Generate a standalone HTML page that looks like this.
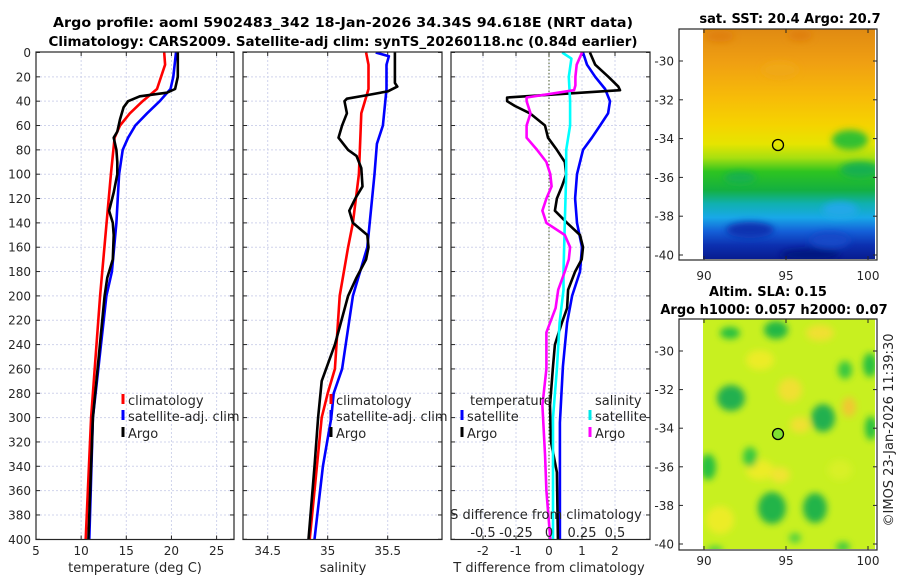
<!DOCTYPE html>
<html><head><meta charset="utf-8">
<style>
html,body{margin:0;padding:0;background:#fff;}
svg{display:block;font-family:"DejaVu Sans","Liberation Sans",sans-serif;}
.tk{font-size:12px;fill:#262626;}
.tt{font-size:13px;font-weight:bold;fill:#000;}
.lg{font-size:13px;fill:#262626;}
</style></head>
<body>
<svg id="chart" width="900" height="580" viewBox="0 0 900 580" xmlns="http://www.w3.org/2000/svg">
<defs>
<clipPath id="c1"><rect x="36" y="52" width="198" height="487.5"/></clipPath>
<clipPath id="c2"><rect x="243" y="52" width="199" height="487.5"/></clipPath>
<clipPath id="c3"><rect x="451" y="52" width="199" height="487.5"/></clipPath>
<clipPath id="cm1"><rect x="703" y="29" width="172" height="230"/></clipPath>
<clipPath id="cm2"><rect x="703" y="319" width="172" height="230"/></clipPath>
<linearGradient id="sstg" x1="0" y1="0" x2="0" y2="1">
<stop offset="0" stop-color="#e08a12"/><stop offset="0.15" stop-color="#f0a012"/>
<stop offset="0.3" stop-color="#f7bc08"/><stop offset="0.42" stop-color="#f5d400"/>
<stop offset="0.5" stop-color="#e6e400"/><stop offset="0.56" stop-color="#a8e010"/>
<stop offset="0.62" stop-color="#2ec420"/><stop offset="0.7" stop-color="#14b040"/>
<stop offset="0.76" stop-color="#10b0b0"/><stop offset="0.82" stop-color="#18a8e8"/>
<stop offset="0.88" stop-color="#1460d8"/><stop offset="0.94" stop-color="#0c30b0"/>
<stop offset="1" stop-color="#081c90"/>
</linearGradient>
<filter id="blur" x="-50%" y="-50%" width="200%" height="200%"><feGaussianBlur stdDeviation="3.5"/></filter>
</defs>
<g id="titles">
<text class="tt" x="343" y="27" text-anchor="middle" textLength="580" lengthAdjust="spacingAndGlyphs">Argo profile: aoml 5902483_342 18-Jan-2026 34.34S 94.618E (NRT data)</text>
<text class="tt" x="343" y="46" text-anchor="middle" textLength="589" lengthAdjust="spacingAndGlyphs">Climatology: CARS2009. Satellite-adj clim: synTS_20260118.nc (0.84d earlier)</text>
</g>
<g id="p1"></g><g id="p2"></g><g id="p3"></g>
<g id="maps"></g>
</svg>
<script>
// ---- data ----
const depthTicks=[0,20,40,60,80,100,120,140,160,180,200,220,240,260,280,300,320,340,360,380,400];
const tempTicks=[5,10,15,20,25];
const salTicks=[34.5,35,35.5];
const tdTicks=[-2,-1,0,1,2];
const sdTickLabels=['-0.5','-0.25','0','0.25','0.5'];
const sdTicks=[-0.5,-0.25,0,0.25,0.5];

const climTDepth=[0,10,30,40,50,60,70,100,200,300,400];
const climTVal=[19.2,19.3,18.4,16.8,15.4,14.3,13.7,13.3,12.1,11.1,10.5];
const satTDepth=[0,20,30,40,50,60,70,80,100,140,180,200,300,400];
const satTVal=[20.5,20.2,19.9,18.7,17.3,16.0,15.2,14.6,14.2,13.9,13.4,12.8,11.3,10.9];
const argoTDepth=[0,20,30,33,36,40,45,55,65,70,80,90,100,115,130,140,150,170,185,200,300,400];
const argoTVal=[20.7,20.7,20.4,19.5,16.5,15.2,14.7,14.3,14.0,13.6,13.9,14.0,14.0,13.6,13.1,13.5,13.6,13.5,12.9,12.6,11.3,10.8];

const climSDepth=[0,10,30,40,50,100,140,160,200,260,280,300,400];
const climSVal=[35.32,35.34,35.34,35.31,35.28,35.26,35.21,35.17,35.10,35.06,35.00,34.95,34.85];
const satSDepth=[0,3,10,30,40,60,75,100,130,160,200,260,280,300,340,400];
const satSVal=[35.40,35.51,35.49,35.49,35.48,35.46,35.41,35.39,35.36,35.33,35.21,35.12,35.05,35.03,34.96,34.89];
const argoSDepth=[0,25,28,32,35,38,40,50,60,70,80,85,95,110,120,130,140,150,160,170,185,200,240,270,300,340,400];
const argoSVal=[35.56,35.56,35.58,35.50,35.33,35.16,35.14,35.16,35.12,35.09,35.17,35.24,35.28,35.29,35.23,35.18,35.21,35.33,35.34,35.32,35.24,35.17,35.06,34.95,34.92,34.89,34.84];

const dSatTDepth=[0,10,20,30,40,50,60,70,80,100,120,140,160,180,200,222,258,304,400];
const dSatTVal=[1.03,1.15,1.4,1.7,1.85,1.79,1.55,1.3,1.03,0.85,0.79,0.85,1.0,0.94,0.7,0.55,0.42,0.33,0.33];
const dArgoTDepth=[0,10,20,28,31,37,40,44,50,60,70,80,90,100,110,120,130,140,150,160,170,180,195,210,222,240,258,290,320,345,400];
const dArgoTVal=[1.24,1.4,1.8,2.1,2.15,-1.27,-1.27,-1.03,-0.58,-0.12,-0.03,0.24,0.48,0.52,0.39,0.24,0.18,0.55,0.94,1.03,0.99,0.79,0.58,0.55,0.39,0.18,0.12,0.03,0.06,0.24,0.27];
const dSatSDepth=[0,5,20,40,60,80,100,140,180,195,222,260,300,350,400];
const dSatSVal=[0.10,0.17,0.15,0.16,0.16,0.13,0.13,0.12,0.11,0.11,0.08,0.06,0.03,0.03,0.03];
const dArgoSDepth=[0,10,20,27,31,37,40,50,60,70,80,90,100,110,120,130,140,150,160,170,180,195,210,230,260,290,330,360,400];
const dArgoSVal=[0.25,0.21,0.20,0.20,0.19,-0.17,-0.17,-0.14,-0.17,-0.17,-0.09,-0.02,0.01,0.02,-0.02,-0.05,-0.02,0.12,0.16,0.15,0.12,0.07,0.05,-0.02,-0.02,-0.05,-0.03,-0.02,0.01];

const mapLatTicks=[-30,-32,-34,-36,-38,-40];
const mapLonTicks=[90,95,100];

// ---- axes ----
const NS='http://www.w3.org/2000/svg';
const Y0=52.5, YS=(539.3-52.5)/400;
const y=d=>Y0+d*YS;
const x1=t=>36+(t-5)*9.03;
const x2=s=>327.7+(s-35)*120;
const x3T=t=>549+t*33;
const x3S=s=>549+s*132;
function mk(parent,tag,attrs){const e=document.createElementNS(NS,tag);for(const k in attrs)e.setAttribute(k,attrs[k]);parent.appendChild(e);return e;}

function panel(gid,L,R,xTicks,xf,xLabels,drawYLabels){
  const g=document.getElementById(gid);
  
  
  depthTicks.forEach(d=>{
    if(d>0&&d<400){const l=mk(g,'line',{x1:L,x2:R,y1:y(d),y2:y(d),stroke:'#d0d4ec','stroke-width':1,'stroke-dasharray':'2,2'});
    
    }
    mk(g,'line',{x1:L,x2:L+4,y1:y(d),y2:y(d),stroke:'#262626'});
    mk(g,'line',{x1:R-4,x2:R,y1:y(d),y2:y(d),stroke:'#262626'});
    if(drawYLabels){const t=mk(g,'text',{x:31,y:y(d)+4.5,'text-anchor':'end',class:'tk'});t.textContent=d;
    
    }
  });
  xTicks.forEach((v,i)=>{
    const X=xf(v);
    if(X>L+1&&X<R-1){const l=mk(g,'line',{x1:X,x2:X,y1:52,y2:539.5,stroke:'#d0d4ec','stroke-width':1,'stroke-dasharray':'2,2'});
    
    }
    mk(g,'line',{x1:X,x2:X,y1:539.5,y2:535.5,stroke:'#262626'});
    mk(g,'line',{x1:X,x2:X,y1:52,y2:56,stroke:'#262626'});
    const t=mk(g,'text',{x:X,y:555,'text-anchor':'middle',class:'tk'});t.textContent=xLabels[i];
    
    
  });
  return g;
}
function frame(g,L,R){const r=mk(g,'rect',{x:L,y:52,width:R-L,height:487.5,fill:'none',stroke:'#262626','stroke-width':1.2});

}
function series(g,clip,depths,vals,xf,color,name){
  const p=mk(g,'polyline',{points:depths.map((d,i)=>xf(vals[i]).toFixed(1)+','+y(d).toFixed(1)).join(' '),fill:'none',stroke:color,'stroke-width':2.6,'stroke-linejoin':'round','clip-path':'url(#'+clip+')'});
  
  
}
function label(g,x,yy,txt,cls,name,anchor){const t=mk(g,'text',{x:x,y:yy,class:cls,'text-anchor':anchor||'start'});t.textContent=txt;

return t;}
function legItem(g,mx,yy,color,txt,name){const m=mk(g,'line',{x1:mx,x2:mx,y1:yy-11,y2:yy-1,stroke:color,'stroke-width':3});


label(g,mx+5,yy,txt,'lg',name);}

// panel 1
const g1=panel('p1',36,234,tempTicks,x1,tempTicks.map(String),true);
series(g1,'c1',climTDepth,climTVal,x1,'#ff0000','climatology-temp-line');
series(g1,'c1',satTDepth,satTVal,x1,'#0000ff','satellite-temp-line');
series(g1,'c1',argoTDepth,argoTVal,x1,'#000000','argo-temp-line');
frame(g1,36,234);
label(g1,135,572,'temperature (deg C)','lg','x-axis-title-temperature','middle');
legItem(g1,123,405,'#ff0000','climatology','legend-climatology');
legItem(g1,123,421,'#0000ff','satellite-adj. clim','legend-satellite-adj');
legItem(g1,123,438,'#000000','Argo','legend-argo');

// panel 2
const g2=panel('p2',243,442,salTicks,x2,['34.5','35','35.5'],false);
series(g2,'c2',climSDepth,climSVal,x2,'#ff0000','climatology-salinity-line');
series(g2,'c2',satSDepth,satSVal,x2,'#0000ff','satellite-salinity-line');
series(g2,'c2',argoSDepth,argoSVal,x2,'#000000','argo-salinity-line');
frame(g2,243,442);
label(g2,343,572,'salinity','lg','x-axis-title-salinity','middle');
legItem(g2,331,405,'#ff0000','climatology','legend-climatology-2');
legItem(g2,331,421,'#0000ff','satellite-adj. clim','legend-satellite-adj-2');
legItem(g2,331,438,'#000000','Argo','legend-argo-2');

// panel 3
const g3=panel('p3',451,650,tdTicks,x3T,tdTicks.map(String),false);
const zl=mk(g3,'line',{x1:549,x2:549,y1:52,y2:539.5,stroke:'#4a5a2a','stroke-width':1,'stroke-dasharray':'1.5,2'});


series(g3,'c3',dSatTDepth,dSatTVal,x3T,'#0000ff','temp-diff-satellite-line');
series(g3,'c3',dArgoTDepth,dArgoTVal,x3T,'#000000','temp-diff-argo-line');
series(g3,'c3',dSatSDepth,dSatSVal,x3S,'#00ffff','sal-diff-satellite-line');
series(g3,'c3',dArgoSDepth,dArgoSVal,x3S,'#ff00ff','sal-diff-argo-line');
frame(g3,451,650);
label(g3,549,572,'T difference from climatology','lg','x-axis-title-tdiff','middle');
label(g3,546,519,'S difference from climatology','lg','s-axis-title','middle');
sdTicks.forEach((v,i)=>label(g3,x3S(v),537,sdTickLabels[i],'lg','s-tick-label','middle'));
label(g3,470,405,'temperature','lg','legend-temperature-header');
legItem(g3,462,421,'#0000ff','satellite','legend-t-satellite');
legItem(g3,462,438,'#000000','Argo','legend-t-argo');
label(g3,595,405,'salinity','lg','legend-salinity-header');
legItem(g3,590,421,'#00e8e8','satellite','legend-s-satellite');
legItem(g3,590,438,'#ff00ff','Argo','legend-s-argo');

// ---- maps ----
const gm=document.getElementById('maps');
function mapAxes(name){
  const g=mk(gm,'g',{});
  
  
  return g;
}
const lat1=v=>61+(-30-v)*19.4;
const lat2=v=>351+(-30-v)*19.3;
const lon=v=>704+(v-90)*16.4;
// map 1
const m1=mapAxes('sst-map');
const im1=mk(m1,'rect',{x:703,y:29,width:172,height:230,fill:'url(#sstg)'});


const bl1=mk(m1,'g',{'clip-path':'url(#cm1)',filter:'url(#blur)'});
[[720,36,'#e08008',14,6],[800,35,'#e08008',12,6],[780,70,'#f0a818',18,8],[850,140,'#30c030',18,10],[860,170,'#18b050',20,8],[740,178,'#18b050',16,6],[840,210,'#20a8e8',18,8],[750,230,'#0c30b0',24,8],[830,240,'#1448c8',20,8],[810,255,'#061680',30,6]].forEach(b=>mk(bl1,'ellipse',{cx:b[0],cy:b[1],rx:b[3],ry:b[4],fill:b[2]}));
const cir1=mk(m1,'circle',{cx:778,cy:145,r:5.5,fill:'none',stroke:'#000','stroke-width':1.3});


mk(m1,'rect',{x:679,y:29,width:198,height:231,fill:'none',stroke:'#262626','stroke-width':1.2});
label(m1,790,23,'sat. SST: 20.4 Argo: 20.7','tt','sst-map-title','middle');
// map 2
const m2=mapAxes('sla-map');
const im2=mk(m2,'rect',{x:703,y:319,width:172,height:230,fill:'#c8f020'});


const bl2=mk(m2,'g',{'clip-path':'url(#cm2)',filter:'url(#blur)'});
[[760,360,'#ecec28',14,10],[790,390,'#f0e030',12,12],[800,425,'#f0e030',10,8],[760,470,'#ecec28',14,10],[780,475,'#f0e430',10,8],[720,520,'#ecec28',14,14],[840,470,'#d8f028',12,10],[849,407,'#f0c830',7,10],[820,333,'#f0e030',14,8],
 [730,333,'#28c040',10,6],[776,330,'#20b844',12,9],[731,398,'#20b050',14,13],[823,418,'#20b050',12,14],[870,365,'#28c040',7,12],[845,370,'#38c840',7,9],[871,428,'#28c040',6,12],[708,467,'#28c040',8,13],[750,457,'#38c840',7,10],[772,508,'#20b448',14,16],[815,508,'#20b448',12,15],[843,547,'#40c840',7,5],[795,538,'#50d040',6,5],[715,550,'#50d040',8,4]].forEach(b=>mk(bl2,'ellipse',{cx:b[0],cy:b[1],rx:b[3],ry:b[4],fill:b[2]}));
const cir2=mk(m2,'circle',{cx:778,cy:434,r:5.5,fill:'#80e030',stroke:'#000','stroke-width':1.3});


mk(m2,'rect',{x:679,y:319,width:198,height:231,fill:'none',stroke:'#262626','stroke-width':1.2});
label(m2,768,296,'Altim. SLA: 0.15','tt','sla-map-title-1','middle');
label(m2,774,314,'Argo h1000: 0.057 h2000: 0.07','tt','sla-map-title-2','middle');
// map ticks
[[m1,lat1,29,260,275],[m2,lat2,319,550,560]].forEach(([g,lf,top,bot,ly])=>{
  mapLatTicks.forEach(v=>{const Y=lf(v);
    mk(g,'line',{x1:679,x2:683,y1:Y,y2:Y,stroke:'#262626'});
    mk(g,'line',{x1:873,x2:877,y1:Y,y2:Y,stroke:'#262626'});
    label(g,674,Y+4.5,String(v),'tk','lat-tick-label','end');});
  mapLonTicks.forEach(v=>{const X=lon(v);
    mk(g,'line',{x1:X,x2:X,y1:bot,y2:bot-4,stroke:'#262626'});
    mk(g,'line',{x1:X,x2:X,y1:top,y2:top+4,stroke:'#262626'});
    label(g,X,ly+5,String(v),'tk','lon-tick-label','middle');});
});
const cp=label(gm,0,0,'©IMOS 23-Jan-2026 11:39:30','lg','imos-credit','middle');
cp.setAttribute('transform','translate(893,430) rotate(-90)');
</script>
</body></html>
